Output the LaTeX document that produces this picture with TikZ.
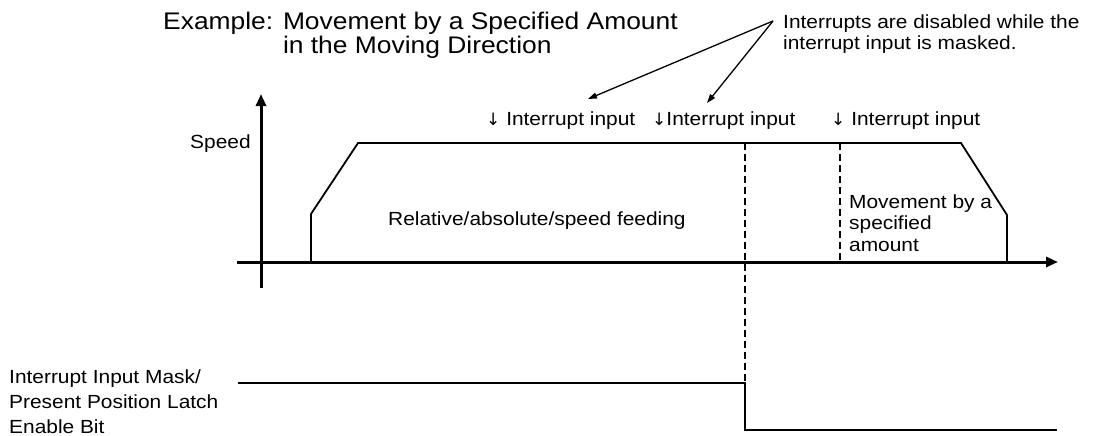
\documentclass[tikz,border=0pt]{standalone}
\usepackage{fontspec}
\setmainfont{Liberation Sans}[FakeStretch=1.1]
\newfontfamily\arrfont{DejaVu Sans}
\newcommand{\dnarr}{{\arrfont\fontsize{17}{17}\selectfont ↓}}
\usetikzlibrary{arrows.meta}

\begin{document}
\begin{tikzpicture}[x=1pt,y=-1pt,
  lbl/.style={inner sep=0pt, anchor=base west, font=\fontsize{19}{21.5}\selectfont, align=left},
  axis/.style={line width=3pt, -{Triangle[length=12pt,width=10pt]}},
  prof/.style={line width=1.8pt, line join=miter},
  guide/.style={line width=1.6pt, dash pattern=on 7pt off 4pt},
  note/.style={line width=1.3pt, -{Triangle[length=9pt,width=6pt]}}]
\useasboundingbox (0,0) rectangle (1097,436);
% axes
\draw[axis] (261,288) -- (261,94);
\draw[axis] (237,262) -- (1058,262);
% speed profile
\draw[prof] (311,262) -- (311,214) -- (358,143) -- (961,143) -- (1007,215) -- (1007,262);
\draw[guide] (745,143) -- (745,383);
\draw[guide] (840,143) -- (840,262);
% mask bit
\draw[prof] (238,383) -- (745,383) -- (745,430) -- (1057,430);
% texts (multi-line nodes sit on their last line)
\node[lbl, font=\fontsize{24}{22}\selectfont] (title) at (163,53) {Example: Movement by a Specified Amount\\\hphantom{Example: }in the Moving Direction};
\node[lbl] (note) at (783,50) {Interrupts are disabled while the\\interrupt input is masked.};
\node[lbl] (speed) at (190,148) {Speed};
\node[lbl] (in1) at (486,125) {\dnarr\ Interrupt input};
\node[lbl] (in2) at (652,125) {\dnarr Interrupt input};
\node[lbl] (in3) at (831,125) {\dnarr\ Interrupt input};
\node[lbl] (feed) at (388,225) {Relative/absolute/speed feeding};
\node[lbl] (amount) at (849,251) {Movement by a\\specified\\amount};
\node[lbl, font=\fontsize{19}{25}\selectfont] (bit) at (9,433) {Interrupt Input Mask/\\Present Position Latch\\Enable Bit};
% note arrows
\coordinate (src) at (773,21);
\coordinate (tip1) at (588,99);
\coordinate (tip2) at (707,103);
\draw[note] (src) -- (tip1);
\draw[note] (src) -- (tip2);
\end{tikzpicture}
\end{document}
